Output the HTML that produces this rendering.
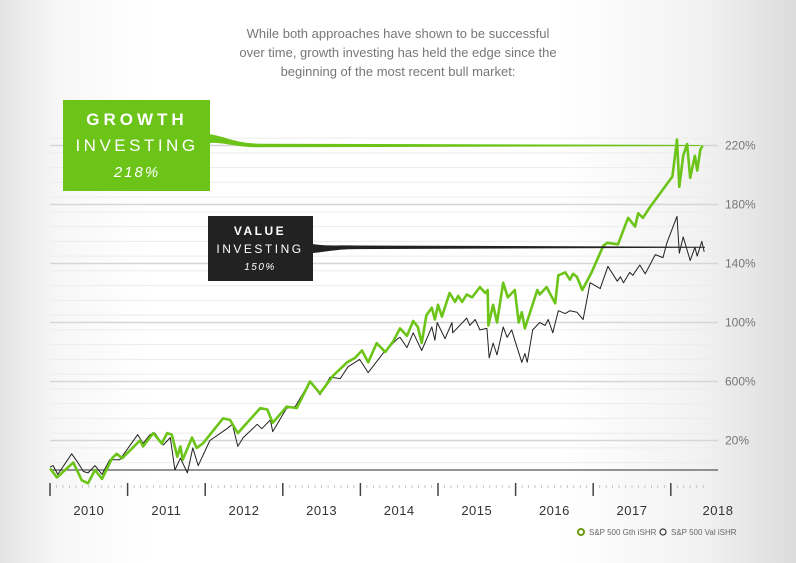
<!DOCTYPE html>
<html><head><meta charset="utf-8">
<style>
html,body{margin:0;padding:0;}
body{width:796px;height:563px;overflow:hidden;font-family:"Liberation Sans",sans-serif;
background:linear-gradient(to right,#e4e4e4 0px,#f7f7f7 60px,#fff 150px,#fff 560px,#f2f2f2 700px,#dcdcdc 796px);}
</style></head><body>
<svg id="chart" width="796" height="563" viewBox="0 0 796 563" xmlns="http://www.w3.org/2000/svg" style="position:absolute;left:0;top:0">
  <g font-family="Liberation Sans, sans-serif" font-size="13" fill="#777" text-anchor="middle">
    <text x="398" y="38">While both approaches have shown to be successful</text>
    <text x="398" y="57">over time, growth investing has held the edge since the</text>
    <text x="398" y="76">beginning of the most recent bull market:</text>
  </g>
  <g id="grid"></g>
  <g id="yaxis"></g>
  <g id="xaxis"></g>
  <g id="series"></g>
  <g id="callouts"></g>
  <g font-size="8" fill="#666">
    <g>
      <circle cx="581" cy="532" r="3" fill="none" stroke="#6a9a10" stroke-width="2"/>
      <text x="589" y="535">S&amp;P 500 Gth iSHR</text>
    </g>
    <g>
      <circle cx="663" cy="532" r="3" fill="none" stroke="#333" stroke-width="1.2"/>
      <text x="671" y="535">S&amp;P 500 Val iSHR</text>
    </g>
  </g>
</svg>
<script>
const yTickValues=[220,180,140,100,60,20];
const yTickLabels=["220%","180%","140%","100%","600%","20%"];
const years=[2010,2011,2012,2013,2014,2015,2016,2017,2018];
const growthDates=[2010.00,2010.09,2010.30,2010.41,2010.49,2010.58,2010.67,2010.80,2010.86,2010.93,2011.16,2011.20,2011.33,2011.44,2011.51,2011.57,2011.64,2011.68,2011.71,2011.83,2011.89,2011.97,2012.23,2012.32,2012.42,2012.71,2012.80,2012.87,2013.05,2013.18,2013.35,2013.48,2013.65,2013.83,2013.93,2014.02,2014.10,2014.21,2014.32,2014.42,2014.51,2014.60,2014.68,2014.74,2014.79,2014.85,2014.92,2014.96,2015.00,2015.05,2015.15,2015.22,2015.26,2015.31,2015.37,2015.44,2015.54,2015.61,2015.64,2015.65,2015.71,2015.76,2015.84,2015.90,2015.99,2016.04,2016.08,2016.12,2016.28,2016.31,2016.40,2016.51,2016.55,2016.64,2016.70,2016.74,2016.79,2016.86,2016.98,2017.13,2017.18,2017.32,2017.45,2017.54,2017.58,2017.64,2017.73,2018.02,2018.08,2018.11,2018.16,2018.21,2018.25,2018.31,2018.34,2018.38,2018.41];
const growthValues=[1,-5,5,-7,-9,0,-6,8,11,8,20,16,25,18,25,24,9,16,7,22,15,18,35,34,25,42,41,32,43,42,60,52,64,73,76,81,73,86,80,87,96,91,101,97,86,105,110,102,112,104,120,114,118,114,119,117,124,120,122,98,112,100,127,117,122,100,107,96,122,119,124,113,132,134,129,133,131,122,134,152,154,153,171,165,174,171,178,199,224,192,213,221,198,213,203,217,220];
const valueDates=[2010.00,2010.04,2010.10,2010.28,2010.36,2010.43,2010.49,2010.58,2010.67,2010.77,2010.90,2011.13,2011.20,2011.29,2011.35,2011.46,2011.55,2011.61,2011.68,2011.77,2011.84,2011.91,2012.06,2012.28,2012.35,2012.42,2012.49,2012.67,2012.73,2012.84,2012.87,2013.05,2013.16,2013.35,2013.48,2013.61,2013.74,2013.84,2013.99,2014.10,2014.29,2014.48,2014.51,2014.60,2014.68,2014.79,2014.92,2014.96,2014.99,2015.09,2015.18,2015.19,2015.37,2015.41,2015.48,2015.54,2015.63,2015.66,2015.71,2015.76,2015.84,2015.89,2015.95,2015.99,2016.08,2016.12,2016.15,2016.22,2016.31,2016.38,2016.42,2016.48,2016.55,2016.64,2016.70,2016.79,2016.87,2016.96,2017.09,2017.19,2017.31,2017.35,2017.39,2017.47,2017.51,2017.60,2017.67,2017.80,2017.90,2017.95,2018.08,2018.11,2018.16,2018.25,2018.31,2018.34,2018.40,2018.43];
const valueValues=[2,3,-3,11,5,-1,-2,3,-3,7,7,24,18,24,25,17,22,0,8,-2,15,3,20,28,31,16,22,31,28,34,26,42,43,60,51,63,62,70,75,66,79,89,90,83,93,81,97,88,100,89,100,93,103,98,102,95,96,76,86,78,97,90,95,88,73,79,73,95,100,98,102,93,108,106,108,107,102,127,123,138,128,131,127,134,132,139,133,146,144,154,172,147,158,142,151,145,155,148];
const growthLabel=218, valueLabel=150;

const NS="http://www.w3.org/2000/svg";
const X0=50,X1=718,PX_YEAR=77.6,Y0=470,PX_UNIT=1.475;
function xScale(t){return X0+(t-2010)*PX_YEAR;}
function yScale(v){return Y0-v*PX_UNIT;}
function mk(tag,attrs,parent){const e=document.createElementNS(NS,tag);for(const k in attrs)e.setAttribute(k,attrs[k]);parent.appendChild(e);return e;}

const grid=document.getElementById('grid');
for(let v=5;v<=225;v+=10){
  const y=yScale(v);
  const l=mk('line',{x1:X0,x2:X1,y1:y,y2:y,stroke:'#ececec','stroke-width':1},grid);
  
  
}
const yax=document.getElementById('yaxis');
yTickValues.forEach((v,i)=>{
  const y=yScale(v);
  const l=mk('line',{x1:X0,x2:X1,y1:y,y2:y,stroke:'#d6d6d6','stroke-width':1.6},grid);
  
  
  const t=mk('text',{x:725,y:y+4,'font-size':12,fill:'#777'},yax);
  t.textContent=yTickLabels[i];
  
  
});
const base=mk('line',{x1:X0,x2:X1,y1:Y0,y2:Y0,stroke:'#555','stroke-width':1.2},grid);



const xax=document.getElementById('xaxis');
for(let m=0;m<=101;m++){
  const x=xScale(2010+m/12);
  if(m%12===0){
    const l=mk('line',{x1:x,x2:x,y1:483,y2:496,stroke:'#444','stroke-width':1.5},xax);
    
    
  } else {
    const l=mk('line',{x1:x,x2:x,y1:485,y2:488,stroke:'#bbb','stroke-width':0.8},xax);
    
    
  }
}
years.forEach((yr,i)=>{
  const cx = i<years.length-1 ? xScale(yr+0.5) : 718;
  const t=mk('text',{x:cx,y:515,'font-size':13,fill:'#333','text-anchor':'middle','letter-spacing':'0.5'},xax);
  t.textContent=String(yr);
  
  
});

function pathFrom(dates,vals){return dates.map((d,i)=>(i?'L':'M')+xScale(d).toFixed(1)+','+yScale(vals[i]).toFixed(1)).join(' ');}
const ser=document.getElementById('series');
const cal=document.getElementById('callouts');

const gy=yScale(growthLabel+2), vy=yScale(valueLabel+1);
const gp=mk('path',{d:`M208,134 L208,143 C225,142 235,${gy+2} 260,${gy+1.8} L700,${gy+0.5} L700,${gy-0.5} L260,${gy-1.8} C235,${gy-2} 225,136 208,134 Z`,fill:'#6cc418'},cal);


const vp=mk('path',{d:`M312,244 L312,253 C325,252 335,${vy+2} 355,${vy+1.8} L705,${vy+0.5} L705,${vy-0.5} L355,${vy-1.8} C335,${vy-2} 325,246 312,244 Z`,fill:'#222'},cal);



const vl=mk('path',{d:pathFrom(valueDates,valueValues),fill:'none',stroke:'#222','stroke-width':1,'stroke-linejoin':'round'},ser);


const gl=mk('path',{d:pathFrom(growthDates,growthValues),fill:'none',stroke:'#6cc418','stroke-width':2.6,'stroke-linejoin':'round'},ser);



const gb=mk('g',{},cal);


mk('rect',{x:63,y:100,width:147,height:91,fill:'#6cc418'},gb);
let t=mk('text',{x:137,y:125,'font-size':17,'font-weight':'bold',fill:'#fff','text-anchor':'middle','letter-spacing':'4'},gb);t.textContent='GROWTH';
t=mk('text',{x:137,y:151,'font-size':17,fill:'#fff','text-anchor':'middle','letter-spacing':'3.5'},gb);t.textContent='INVESTING';
t=mk('text',{x:137,y:177,'font-size':15,'font-style':'italic',fill:'#fff','text-anchor':'middle','letter-spacing':'2'},gb);t.textContent=growthLabel+'%';
const vb=mk('g',{},cal);


mk('rect',{x:208,y:216,width:105,height:65,fill:'#222'},vb);
t=mk('text',{x:260,y:235,'font-size':12,'font-weight':'bold',fill:'#fff','text-anchor':'middle','letter-spacing':'2.5'},vb);t.textContent='VALUE';
t=mk('text',{x:260,y:253,'font-size':12,fill:'#fff','text-anchor':'middle','letter-spacing':'2.5'},vb);t.textContent='INVESTING';
t=mk('text',{x:260,y:270,'font-size':10,'font-style':'italic',fill:'#fff','text-anchor':'middle','letter-spacing':'1.5'},vb);t.textContent=valueLabel+'%';
</script>
</body></html>
